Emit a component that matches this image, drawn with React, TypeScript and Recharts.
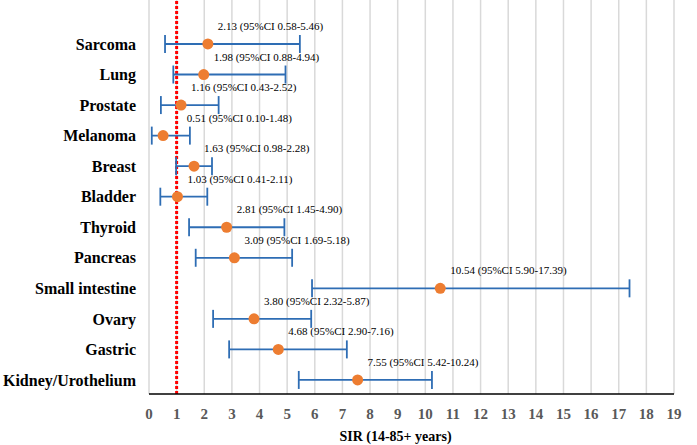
import { ScatterChart, Scatter, XAxis, YAxis, CartesianGrid, ErrorBar, ReferenceLine } from "recharts";

const cancers = [
  "Sarcoma",
  "Lung",
  "Prostate",
  "Melanoma",
  "Breast",
  "Bladder",
  "Thyroid",
  "Pancreas",
  "Small intestine",
  "Ovary",
  "Gastric",
  "Kidney/Urothelium",
];
const sirValues = [2.13, 1.98, 1.16, 0.51, 1.63, 1.03, 2.81, 3.09, 10.54, 3.8, 4.68, 7.55];
const ciLow = [0.58, 0.88, 0.43, 0.1, 0.98, 0.41, 1.45, 1.69, 5.9, 2.32, 2.9, 5.42];
const ciHigh = [5.46, 4.94, 2.52, 1.48, 2.28, 2.11, 4.9, 5.18, 17.39, 5.87, 7.16, 10.24];
const xTicks = Array.from({ length: 20 }, (_, i) => i);

const FONT = "Liberation Serif, Times New Roman, serif";
const PX_PER_UNIT = 525 / 19;

// row position: first cancer at the top
const rows = cancers.map((name, i) => ({
  name,
  row: cancers.length - i,
  sir: sirValues[i],
  lo: ciLow[i],
  hi: ciHigh[i],
  err: [sirValues[i] - ciLow[i], ciHigh[i] - sirValues[i]],
}));
const yTicks = rows.map((r) => r.row);

const PointShape = (props: any) => {
  const { cx, cy, payload } = props;
  const shift = (Math.max(payload.sir, 1) - payload.sir) * PX_PER_UNIT;
  const label = `${payload.sir.toFixed(2)} (95%CI ${payload.lo.toFixed(2)}-${payload.hi.toFixed(2)})`;
  return (
    <g>
      <circle cx={cx} cy={cy} r={5.5} fill="#ED7D31" />
      <text x={cx + shift + 10} y={cy - 14} fontSize={11} style={{ fontFamily: FONT }} fill="#000">
        {label}
      </text>
    </g>
  );
};

export default function App() {
  return (
    <div style={{ position: "absolute", left: 0, top: 0, background: "#fff", fontFamily: FONT }}>
      <ScatterChart
        width={697}
        height={445}
        margin={{ top: 0, right: 23, bottom: 0, left: 0 }}
        style={{ fontFamily: FONT }}
      >
        <CartesianGrid horizontal={false} stroke="#d9d9d9" strokeWidth={1.5} />
        <XAxis
          type="number"
          dataKey="sir"
          domain={[0, 19]}
          ticks={xTicks}
          interval={0}
          height={51}
          tickLine={false}
          tickMargin={8}
          axisLine={{ stroke: "#000", strokeWidth: 1.5 }}
          tick={{ fill: "#595959", fontSize: 15, fontWeight: "bold", style: { fontFamily: FONT } }}
          label={{
            value: "SIR (14-85+ years)",
            position: "insideBottom",
            offset: 4,
            dx: -16,
            fill: "#000",
            fontSize: 14,
            fontWeight: "bold",
            style: { fontFamily: FONT },
          }}
        />
        <YAxis
          type="number"
          dataKey="row"
          domain={[0.54, 13.44]}
          ticks={yTicks}
          interval={0}
          width={149}
          axisLine={false}
          tickLine={false}
          tickMargin={7}
          tickFormatter={(v: number) => cancers[cancers.length - v]}
          tick={{ fill: "#000", fontSize: 16, fontWeight: "bold", style: { fontFamily: FONT } }}
        />
        <ReferenceLine x={1} stroke="#FF0000" strokeWidth={3} strokeDasharray="3 2" />
        <Scatter data={rows} shape={PointShape} isAnimationActive={false}>
          <ErrorBar dataKey="err" direction="x" width={9} stroke="#2E6DB4" strokeWidth={1.8} />
        </Scatter>
      </ScatterChart>
    </div>
  );
}
